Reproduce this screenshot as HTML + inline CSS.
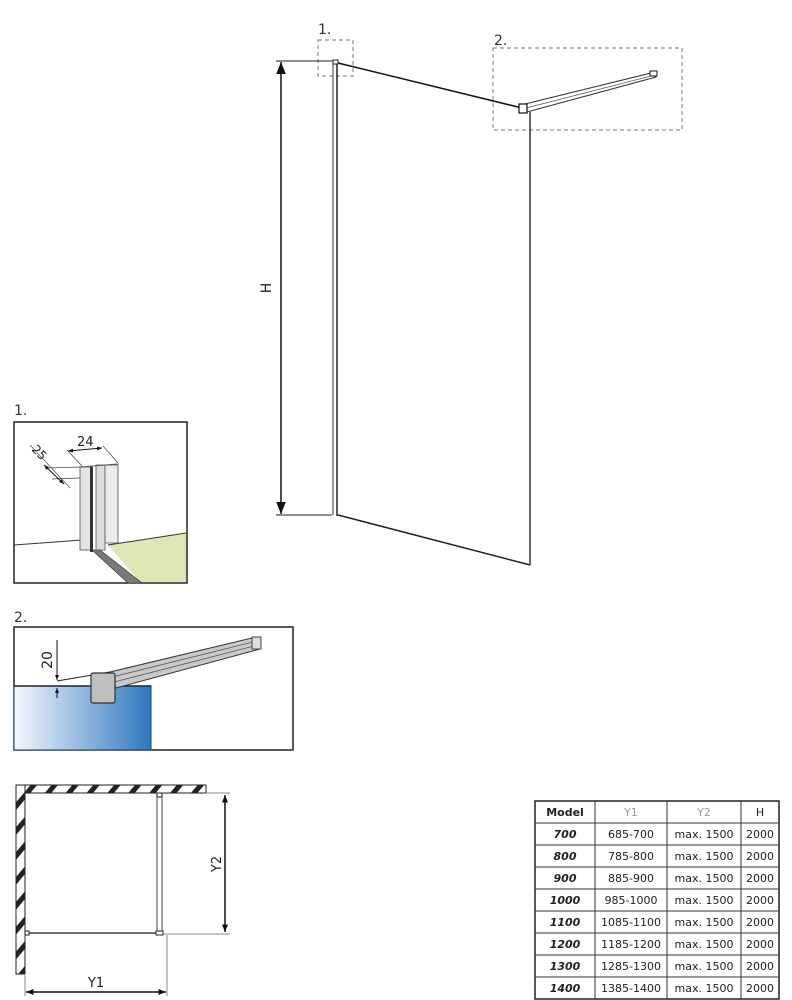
<!DOCTYPE html>
<html><head><meta charset="utf-8"><style>
html,body{margin:0;padding:0;background:#fff;}
svg{display:block;font-family:"DejaVu Sans","Liberation Sans",sans-serif;}
</style></head><body>
<svg width="792" height="1000" viewBox="0 0 792 1000" xmlns="http://www.w3.org/2000/svg">
<defs>
<marker id="ar" viewBox="0 0 10 10" refX="10" refY="5" markerWidth="8" markerHeight="8" orient="auto-start-reverse"><path d="M0,1 L10,5 L0,9 z" fill="#111"/></marker>
<marker id="as" viewBox="0 0 10 10" refX="10" refY="5" markerWidth="5" markerHeight="5" orient="auto-start-reverse"><path d="M0,1 L10,5 L0,9 z" fill="#111"/></marker>
<linearGradient id="bl" x1="0" x2="1" y1="0" y2="0"><stop offset="0" stop-color="#f4f8fc"/><stop offset="1" stop-color="#2f78c0"/></linearGradient>
<pattern id="hatch" width="16" height="16" patternUnits="userSpaceOnUse" patternTransform="rotate(40)"><rect width="16" height="16" fill="#fff"/><rect width="5" height="16" fill="#222"/></pattern>
</defs>

<text x="318" y="34" font-size="14" fill="#333">1.</text>
<rect x="318" y="40" width="35" height="36" fill="none" stroke="#777" stroke-dasharray="4,3"/>
<text x="494" y="45" font-size="14" fill="#333">2.</text>
<rect x="493" y="48" width="189" height="82" fill="none" stroke="#777" stroke-dasharray="4,3"/>

<line x1="276" y1="61" x2="335" y2="61" stroke="#222"/>
<line x1="276" y1="515" x2="332" y2="515" stroke="#222"/>
<line x1="281" y1="62" x2="281" y2="514" stroke="#111" stroke-width="1.5" marker-start="url(#ar)" marker-end="url(#ar)"/>
<text x="0" y="0" font-size="14" fill="#222" transform="translate(271,288) rotate(-90)" text-anchor="middle">H</text>

<line x1="333" y1="62" x2="333" y2="515" stroke="#333"/>
<line x1="337" y1="62" x2="337" y2="516" stroke="#222" stroke-width="1.5"/>
<rect x="333" y="60" width="5" height="4" fill="#fff" stroke="#222"/>
<line x1="338" y1="63" x2="522" y2="108" stroke="#111" stroke-width="1.5"/>
<line x1="338" y1="515" x2="530" y2="565" stroke="#222" stroke-width="1.5"/>
<line x1="530" y1="112" x2="530" y2="565" stroke="#333" stroke-width="1.5"/>
<polygon points="525,104 655,72 656,77 527,112" fill="#fff" stroke="#333" stroke-width="1"/>
<line x1="526" y1="108" x2="655" y2="75" stroke="#555" stroke-width="0.8"/>
<rect x="519" y="104" width="8" height="9" fill="#fff" stroke="#111" stroke-width="1.2"/>
<rect x="650" y="71" width="7" height="5" fill="#fff" stroke="#111"/>

<text x="14" y="415" font-size="14" fill="#333">1.</text>
<rect x="14" y="422" width="173" height="161" fill="#fff" stroke="#222" stroke-width="1.5"/>
<polygon points="108,545 186,533 186,582 140,582 112,550" fill="#dfe6b6"/>
<line x1="14" y1="545" x2="82" y2="540" stroke="#333"/>
<line x1="108" y1="545" x2="186" y2="533" stroke="#333"/>
<polygon points="92,550 100,550 142,583 128,583" fill="#7a7a7a" stroke="#444" stroke-width="0.8"/>
<rect x="80" y="467" width="12" height="83" fill="#e4e4e4" stroke="#555" stroke-width="0.8"/>
<rect x="90" y="467" width="3" height="85" fill="#333"/>
<rect x="96" y="465" width="9" height="85" fill="#ddd" stroke="#555" stroke-width="0.8"/>
<rect x="105" y="465" width="13" height="78" fill="#ececec" stroke="#555" stroke-width="0.8"/>
<line x1="80" y1="467" x2="118" y2="464" stroke="#555"/>
<line x1="67" y1="450" x2="82" y2="466" stroke="#444" stroke-width="0.7"/>
<line x1="103" y1="446" x2="118" y2="463" stroke="#444" stroke-width="0.7"/>
<line x1="68" y1="451" x2="102" y2="448" stroke="#111" marker-start="url(#as)" marker-end="url(#as)"/>
<text x="77" y="446" font-size="13" fill="#222">24</text>
<line x1="46" y1="468" x2="82" y2="467" stroke="#444" stroke-width="0.7"/>
<line x1="52" y1="479" x2="80" y2="478" stroke="#444" stroke-width="0.7"/>
<line x1="30" y1="445" x2="70" y2="488" stroke="#444" stroke-width="0.6"/>
<line x1="44" y1="465" x2="64" y2="484" stroke="#111" marker-start="url(#as)" marker-end="url(#as)"/>
<text x="0" y="0" font-size="12" fill="#222" transform="translate(31,450) rotate(45)">25</text>

<text x="14" y="622" font-size="14" fill="#333">2.</text>
<rect x="14" y="627" width="279" height="123" fill="#fff" stroke="#222" stroke-width="1.5"/>
<rect x="14" y="686" width="137" height="64" fill="url(#bl)" stroke="#1c3f66" stroke-width="1"/>
<line x1="14" y1="686" x2="151" y2="686" stroke="#222" stroke-width="1.5"/>
<polygon points="110,672 256,637 260,649 116,688" fill="#c9c9c9" stroke="#333" stroke-width="1"/>
<line x1="112" y1="677" x2="257" y2="641" stroke="#555" stroke-width="0.8"/>
<line x1="114" y1="682" x2="258" y2="645" stroke="#555" stroke-width="0.8"/>
<rect x="252" y="637" width="9" height="12" fill="#ddd" stroke="#444"/>
<line x1="57" y1="681" x2="110" y2="672" stroke="#222"/>
<rect x="91" y="673" width="24" height="30" rx="2" fill="#bfbfbf" stroke="#333" stroke-width="1.2"/>
<line x1="57" y1="640" x2="57" y2="680" stroke="#111" marker-end="url(#as)"/>
<line x1="57" y1="698" x2="57" y2="688" stroke="#111" marker-end="url(#as)"/>
<line x1="50" y1="686" x2="75" y2="686" stroke="#222"/>
<text x="0" y="0" font-size="14" fill="#222" transform="translate(52,660) rotate(-90)" text-anchor="middle">20</text>

<rect x="16" y="785" width="190" height="8" fill="url(#hatch)" stroke="#222"/>
<rect x="16" y="785" width="9" height="189" fill="url(#hatch)" stroke="#222"/>
<line x1="25" y1="933" x2="160" y2="933" stroke="#444" stroke-width="1.5"/>
<rect x="157" y="795" width="5" height="138" fill="#fff" stroke="#444"/>
<rect x="157" y="793" width="5" height="4" fill="#fff" stroke="#222"/>
<rect x="156" y="931" width="7" height="4" fill="#fff" stroke="#222"/>
<rect x="25" y="931" width="4" height="4" fill="#fff" stroke="#222"/>
<line x1="206" y1="793" x2="230" y2="793" stroke="#888"/>
<line x1="163" y1="934" x2="230" y2="934" stroke="#888"/>
<line x1="225" y1="795" x2="225" y2="932" stroke="#111" stroke-width="1.5" marker-start="url(#as)" marker-end="url(#as)"/>
<text x="0" y="0" font-size="13" fill="#222" transform="translate(221,864) rotate(-90)" text-anchor="middle">Y2</text>
<line x1="167" y1="935" x2="167" y2="996" stroke="#888"/>
<line x1="25" y1="975" x2="25" y2="996" stroke="#888"/>
<line x1="26" y1="992" x2="166" y2="992" stroke="#111" stroke-width="1.5" marker-start="url(#as)" marker-end="url(#as)"/>
<text x="96" y="987" font-size="13" fill="#222" text-anchor="middle">Y1</text>

<g font-size="11" text-anchor="middle" fill="#222">
<rect x="535" y="801" width="244" height="198" fill="#fff" stroke="#222" stroke-width="1.5"/>
<g stroke="#333" stroke-width="1">
<line x1="595" y1="801" x2="595" y2="999"/><line x1="667" y1="801" x2="667" y2="999"/><line x1="741" y1="801" x2="741" y2="999"/>
<line x1="535" y1="823" x2="779" y2="823"/><line x1="535" y1="845" x2="779" y2="845"/><line x1="535" y1="867" x2="779" y2="867"/><line x1="535" y1="889" x2="779" y2="889"/><line x1="535" y1="911" x2="779" y2="911"/><line x1="535" y1="933" x2="779" y2="933"/><line x1="535" y1="955" x2="779" y2="955"/><line x1="535" y1="977" x2="779" y2="977"/>
</g>
<text x="565" y="816" font-weight="bold">Model</text><text x="631" y="816" fill="#999">Y1</text><text x="704" y="816" fill="#999">Y2</text><text x="760" y="816">H</text>
<g font-weight="bold" font-style="italic">
<text x="565" y="838">700</text><text x="565" y="860">800</text><text x="565" y="882">900</text><text x="565" y="904">1000</text><text x="565" y="926">1100</text><text x="565" y="948">1200</text><text x="565" y="970">1300</text><text x="565" y="992">1400</text>
</g>
<text x="631" y="838">685-700</text><text x="631" y="860">785-800</text><text x="631" y="882">885-900</text><text x="631" y="904">985-1000</text><text x="631" y="926">1085-1100</text><text x="631" y="948">1185-1200</text><text x="631" y="970">1285-1300</text><text x="631" y="992">1385-1400</text>
<g><text x="704" y="838">max. 1500</text><text x="704" y="860">max. 1500</text><text x="704" y="882">max. 1500</text><text x="704" y="904">max. 1500</text><text x="704" y="926">max. 1500</text><text x="704" y="948">max. 1500</text><text x="704" y="970">max. 1500</text><text x="704" y="992">max. 1500</text></g>
<g><text x="760" y="838">2000</text><text x="760" y="860">2000</text><text x="760" y="882">2000</text><text x="760" y="904">2000</text><text x="760" y="926">2000</text><text x="760" y="948">2000</text><text x="760" y="970">2000</text><text x="760" y="992">2000</text></g>
</g>
</svg>
</body></html>
